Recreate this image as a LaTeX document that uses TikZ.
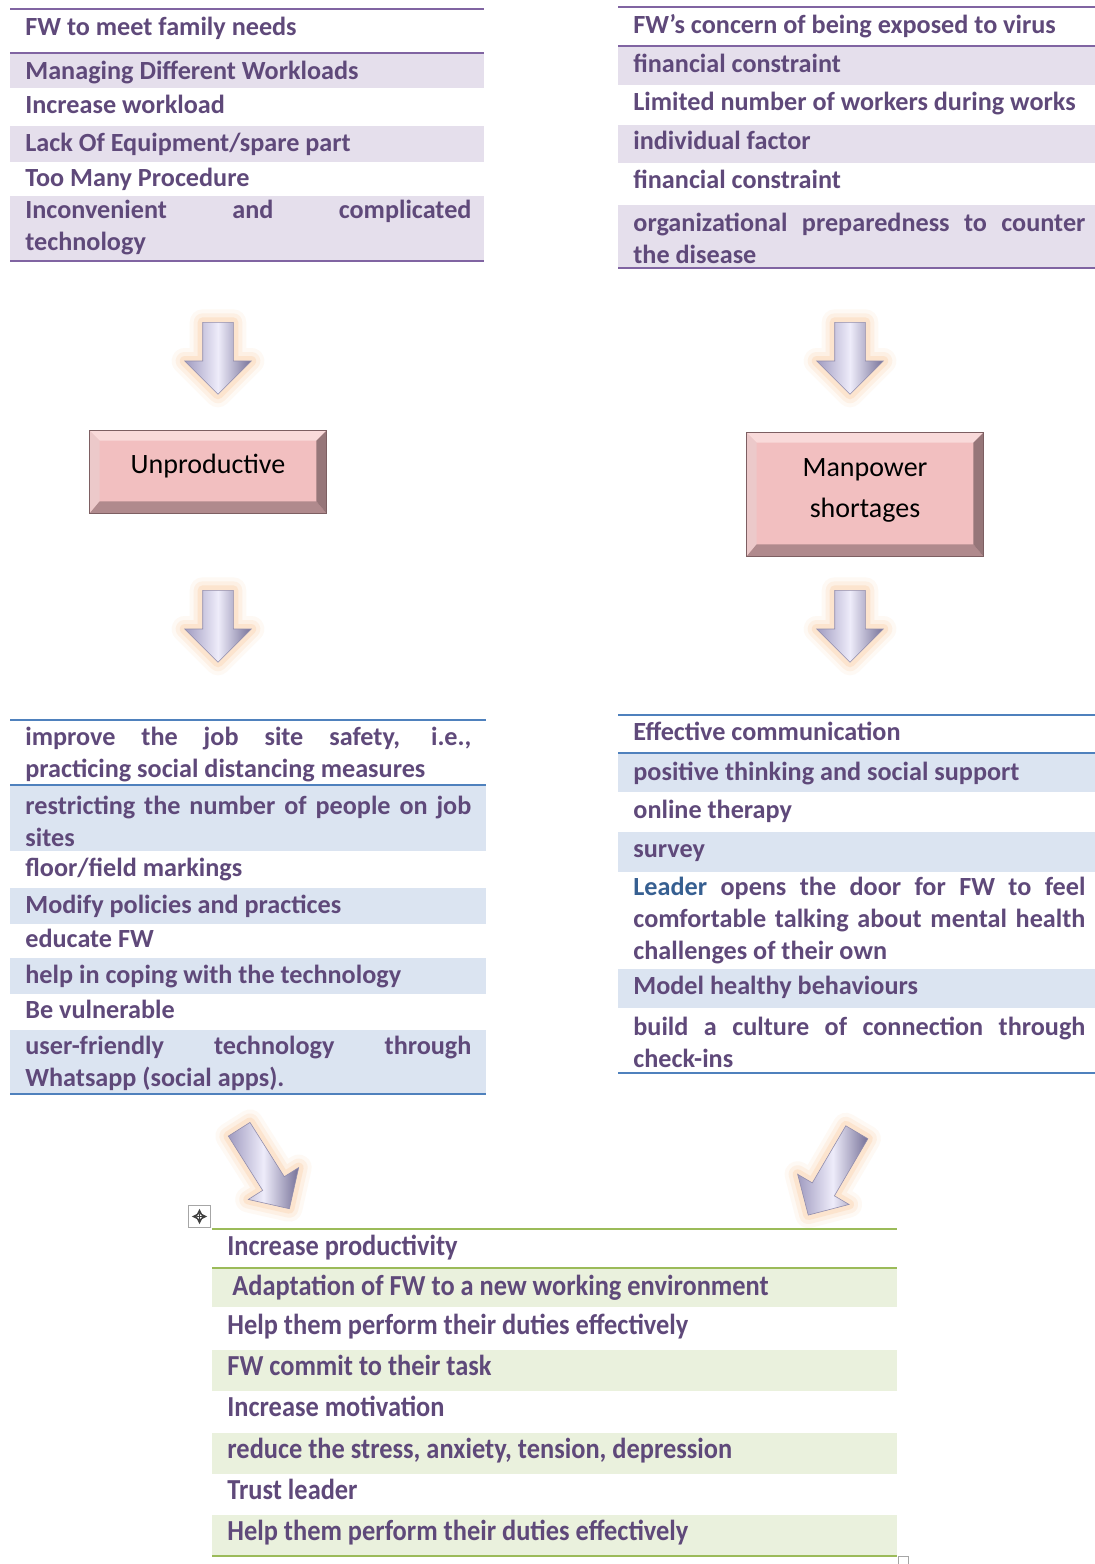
\documentclass[tikz,border=0pt]{standalone}
\usepackage{fontspec}
\setmainfont{Carlito}
\newfontfamily\condfont{Carlito}[FakeStretch=0.91]
\usepackage{xcolor}
\usepackage{tikz}
\usetikzlibrary{shapes.arrows}

\definecolor{rowtext}{RGB}{95,73,122}
\definecolor{purplerule}{RGB}{128,100,162}
\definecolor{purpleband}{RGB}{229,223,236}
\definecolor{bluerule}{RGB}{79,129,189}
\definecolor{blueband}{RGB}{219,228,241}
\definecolor{greenrule}{RGB}{155,187,89}
\definecolor{greenband}{RGB}{234,241,221}
\definecolor{leaderblue}{RGB}{54,95,145}
\definecolor{boxface}{RGB}{242,191,192}
\definecolor{bevlight}{RGB}{249,218,218}
\definecolor{bevside}{RGB}{236,201,202}
\definecolor{bevdark}{RGB}{176,138,141}
\definecolor{bevshade}{RGB}{150,118,121}
\definecolor{boxline}{RGB}{125,95,98}
\definecolor{glowcol}{RGB}{250,170,100}
\definecolor{arrowlite}{RGB}{160,155,192}
\definecolor{arrowmid}{RGB}{238,236,250}
\definecolor{arrowdark}{RGB}{118,113,152}

\tikzset{
  row/.style={anchor=west, inner sep=0pt, text=rowtext,
    font=\fontsize{13.1}{16}\selectfont\bfseries, text height=10pt, text depth=1.6pt},
  longrow/.style={row, text height=, text depth=, align=justify},
  lowrow/.style={row, font=\condfont\fontsize{14.5}{17}\selectfont\bfseries},
  bevelbox/.style={fill=boxface, inner sep=0pt, minimum width=118pt,
    text width=100pt, align=center, text=black,
    font=\fontsize{14}{20.5}\selectfont},
  haloarrow/.style={single arrow, anchor=tail, inner sep=7.5pt,
    single arrow head extend=9pt, minimum height=36pt,
    left color=arrowlite, right color=arrowdark, middle color=arrowmid,
    draw=arrowdark!80, line width=.3pt,
    preaction={draw=glowcol, draw opacity=.07, line width=13pt, line join=round},
    preaction={draw=glowcol, draw opacity=.11, line width=9pt, line join=round},
    preaction={draw=glowcol, draw opacity=.17, line width=5pt, line join=round}}
}

\begin{document}
\begin{tikzpicture}[x=0.5pt, y=-0.5pt, >=stealth]

\fill[white] (0,0) rectangle (1095,1564);
\useasboundingbox (0,0) rectangle (1095,1564);

% causes, left
\foreach \a/\b in {54/88,126/162,196/260}
  \fill[purpleband] (10,\a) rectangle (484,\b);
\foreach \y in {9,53,261}
  \draw[purplerule, line width=1pt] (10,\y) -- (484,\y);
\foreach \y/\t [count=\i] in {27/FW to meet family needs, 71/Managing Different Workloads,
    105/Increase workload, 143/{Lack Of Equipment/spare part}, 178/Too Many Procedure}
  \node[row] (tl-\i) at (25,\y) {\t};
\node[longrow, text width=223pt] (tl-6) at (25,228) {Inconvenient and complicated\linebreak technology};

% causes, right
\foreach \a/\b in {47/85,125/163,205/267}
  \fill[purpleband] (618,\a) rectangle (1095,\b);
\foreach \y in {7,46,268}
  \draw[purplerule, line width=1pt] (618,\y) -- (1095,\y);
\foreach \y/\t [count=\i] in {25/FW’s concern of being exposed to virus, 64/financial constraint,
    102/Limited number of workers during works, 141/individual factor, 180/financial constraint}
  \node[row] (tr-\i) at (633,\y) {\t};
\node[longrow, text width=226pt] (tr-6) at (633,238) {organizational preparedness to counter\linebreak the disease};

% the two outcomes
\node[bevelbox, minimum height=41pt, text height=10pt, text depth=9pt] (unprod) at (208,472) {Unproductive};
\node[bevelbox, minimum height=61.5pt, text height=10pt, text depth=28.5pt] (manpower) at (865,494.5) {Manpower\\shortages};

\foreach \b in {unprod,manpower} {
  \fill[bevlight] (\b.north west) -- (\b.north east) -- ([shift={(-10,10)}]\b.north east) -- ([shift={(10,10)}]\b.north west) -- cycle;
  \fill[bevside] (\b.north west) -- ([shift={(10,10)}]\b.north west) -- ([shift={(10,-12)}]\b.south west) -- (\b.south west) -- cycle;
  \fill[bevdark] (\b.south west) -- ([shift={(10,-12)}]\b.south west) -- ([shift={(-10,-12)}]\b.south east) -- (\b.south east) -- cycle;
  \fill[bevshade] (\b.south east) -- ([shift={(-10,-12)}]\b.south east) -- ([shift={(-10,10)}]\b.north east) -- (\b.north east) -- cycle;
  \draw[boxline, line width=.5pt] (\b.north west) rectangle (\b.south east);
}

% block arrows
\node[haloarrow, rotate=-90] (arr-l1) at (218,322) {};
\node[haloarrow, rotate=-90] (arr-r1) at (850,322) {};
\node[haloarrow, rotate=-90] (arr-l2) at (218,590) {};
\node[haloarrow, rotate=-90] (arr-r2) at (850,590) {};
\node[haloarrow, rotate=-57.7, minimum height=47pt, inner sep=6.25pt,
  single arrow head extend=8.5pt] (arr-l3) at (239,1129) {};
\node[haloarrow, rotate=-120.4, minimum height=48pt, inner sep=6.25pt,
  single arrow head extend=8.5pt] (arr-r3) at (857,1132) {};

% measures, left
\foreach \a/\b in {786/851,888/924,958/994,1030/1093}
  \fill[blueband] (10,\a) rectangle (486,\b);
\foreach \y in {720,785,1094}
  \draw[bluerule, line width=1pt] (10,\y) -- (486,\y);
\node[longrow, text width=223pt] (ml-1) at (25,755) {improve the job site safety, i.e.,\linebreak practicing social distancing measures};
\node[longrow, text width=223pt] (ml-2) at (25,821) {restricting the number of people on job\linebreak sites};
\foreach \y/\t [count=\i from 3] in {868/{floor/field markings}, 905/Modify policies and practices,
    939/educate FW, 975/help in coping with the technology, 1010/Be vulnerable}
  \node[row] (ml-\i) at (25,\y) {\t};
\node[longrow, text width=223pt] (ml-8) at (25,1063) {user-friendly technology through\linebreak Whatsapp (social apps).};

% measures, right
\foreach \a/\b in {754/792,832/872,969/1008}
  \fill[blueband] (618,\a) rectangle (1095,\b);
\foreach \y in {715,753,1073}
  \draw[bluerule, line width=1pt] (618,\y) -- (1095,\y);
\foreach \y/\t [count=\i] in {732/Effective communication, 772/positive thinking and social support,
    810/online therapy, 849/survey}
  \node[row] (mr-\i) at (633,\y) {\t};
\node[longrow, text width=226pt] (mr-5) at (633,921) {{\color{leaderblue}Leader} opens the door for FW to feel\linebreak comfortable talking about mental health\linebreak challenges of their own};
\node[row] (mr-6) at (633,986) {Model healthy behaviours};
\node[longrow, text width=226pt] (mr-7) at (633,1042) {build a culture of connection through\linebreak check-ins};

% results
\node[draw=gray!70, fill=white, inner sep=0pt, minimum size=11pt] (movehandle) at (199.5,1216.5) {};
\draw[<->, line width=.6pt, black!75] ([xshift=-3.8pt]movehandle.center) -- ([xshift=3.8pt]movehandle.center);
\draw[<->, line width=.6pt, black!75] ([yshift=-3.8pt]movehandle.center) -- ([yshift=3.8pt]movehandle.center);
\node[draw=gray!70, fill=white, inner sep=0pt, minimum size=5pt] (sizehandle) at (903,1561) {};

\foreach \a/\b in {1269/1307,1350/1391,1433/1474,1515/1555}
  \fill[greenband] (212,\a) rectangle (897,\b);
\foreach \y in {1229,1268,1556}
  \draw[greenrule, line width=1pt] (212,\y) -- (897,\y);
\foreach \y/\t [count=\i] in {1247/Increase productivity, 1326/Help them perform their duties effectively,
    1367/FW commit to their task, 1408/Increase motivation,
    1450/{reduce the stress, anxiety, tension, depression}, 1491/Trust leader,
    1532/Help them perform their duties effectively}
  \node[lowrow] (bt-\i) at (227,\y) {\t};
\node[lowrow] (bt-8) at (232,1287) {Adaptation of FW to a new working environment};

\end{tikzpicture}
\end{document}
